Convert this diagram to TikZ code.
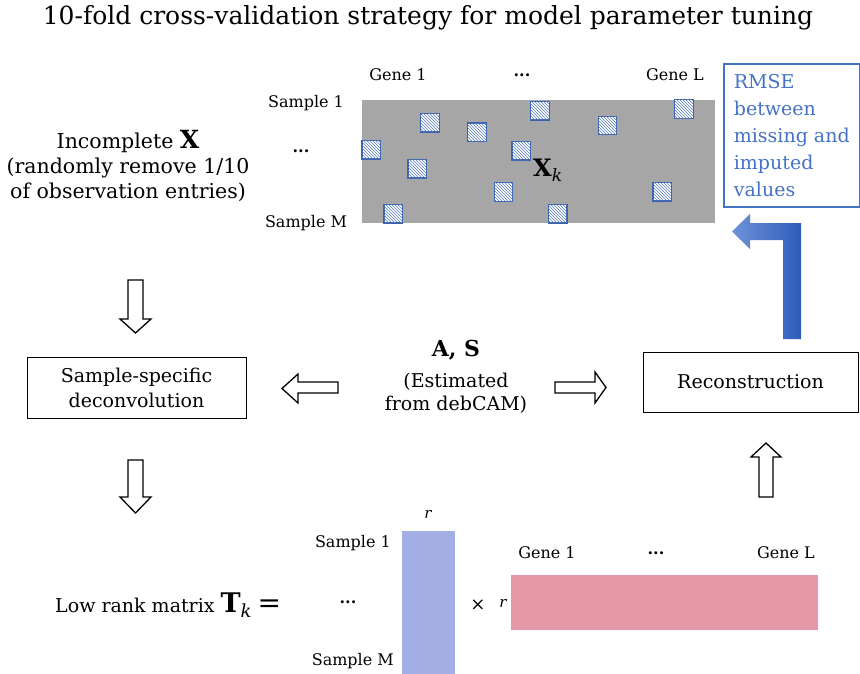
\documentclass[tikz,border=0pt]{standalone}
\usepackage{fontspec}
\setmainfont{DejaVu Serif}
\usetikzlibrary{patterns}
\definecolor{grayM}{HTML}{A6A6A6}
\definecolor{blueT}{HTML}{4472C4}
\definecolor{hatch}{HTML}{3B64B0}
\definecolor{barB}{HTML}{A3AEE4}
\definecolor{barP}{HTML}{E698A9}
\definecolor{arrL}{HTML}{6E92DA}
\definecolor{arrR}{HTML}{2D5DB9}
\begin{document}
\begin{tikzpicture}[x=1pt,y=-1pt,
  lbl/.style={inner sep=0pt, font=\fontsize{16}{18}\selectfont},
  miss/.style={draw=hatch, line width=1.2pt, fill=white,
    postaction={pattern=north west lines, pattern color=hatch!85},
    minimum size=18.5pt, inner sep=0pt},
  procbox/.style={draw=black, line width=1pt, align=center, inner sep=0pt,
    font=\fontsize{19}{25}\selectfont},
  hollow/.style={draw=black, line width=1.3pt, fill=white, line join=miter}
]
\useasboundingbox (0,0) rectangle (860,674);

% title
\node[inner sep=0pt, font=\fontsize{25}{28}\selectfont] (title) at (428,18)
  {10-fold cross-validation strategy for model parameter tuning};

% incomplete X description
\node[inner sep=0pt, align=center, font=\fontsize{20.5}{25}\selectfont] (incomp) at (128,166)
  {Incomplete {\fontsize{25}{25}\selectfont\bfseries X}\\(randomly remove 1/10\\of observation entries)};

% data matrix
\node[fill=grayM, anchor=north west, minimum width=353pt, minimum height=123pt, inner sep=0pt] (Xmat) at (362,100) {};
\node[miss] (m1) at (540,110.7) {};
\node[miss] (m2) at (684,109) {};
\node[miss] (m3) at (430,122.7) {};
\node[miss] (m4) at (477,132.3) {};
\node[miss] (m5) at (607.5,125.5) {};
\node[miss] (m6) at (371.3,149.7) {};
\node[miss] (m7) at (521.3,150.8) {};
\node[miss] (m8) at (417.2,168.8) {};
\node[miss] (m9) at (503.5,192) {};
\node[miss] (m10) at (662.2,191.7) {};
\node[miss] (m11) at (393.3,213.7) {};
\node[miss] (m12) at (557.8,213.7) {};
\node[inner sep=0pt, anchor=base west] (Xk) at (533,177)
  {{\fontsize{24}{24}\selectfont\bfseries X}\raisebox{-5pt}{\fontsize{17}{17}\selectfont\itshape k}};

\node[lbl] (g1) at (398,75) {Gene 1};
\node[lbl] (gd) at (522,75) {\textbf{...}};
\node[lbl] (gL) at (675,75) {Gene L};
\node[lbl] (s1) at (306,103) {Sample 1};
\node[lbl] (sd) at (301,151) {\textbf{...}};
\node[lbl] (sM) at (306,223) {Sample M};

% RMSE box
\node[draw=blueT, line width=1.6pt, anchor=north west, minimum width=136pt, minimum height=143pt,
  inner sep=0pt, align=left, text=blueT, font=\fontsize{19}{27}\selectfont] (rmse) at (723,63)
  {RMSE\\between\\missing and\\imputed\\values};

% blue feedback arrow
\path[left color=arrL, right color=arrR]
  (732,231.5) -- (750,214) -- (750,223) -- (801,223) -- (801,339) -- (783,339)
  -- (783,240) -- (750,240) -- (750,249) -- cycle;

% processing boxes
\node[procbox, minimum width=219pt, minimum height=61pt] (deconv) at (136.5,387.5)
  {Sample-specific\\deconvolution};
\node[procbox, minimum width=215pt, minimum height=60pt] (recon) at (750.5,382)
  {Reconstruction};

% A, S
\node[inner sep=0pt, font=\fontsize{22}{22}\selectfont\bfseries] (AS) at (456,350) {A, S};
\node[inner sep=0pt, align=center, font=\fontsize{19}{23}\selectfont] (est) at (456,393)
  {(Estimated\\from debCAM)};

% hollow block arrows
\draw[hollow] (128,280) -- (143,280) -- (143,319) -- (151,319) -- (135.5,333) -- (120,319) -- (128,319) -- cycle;
\draw[hollow] (128,460) -- (143,460) -- (143,497) -- (151,497) -- (135.5,513) -- (120,497) -- (128,497) -- cycle;
\draw[hollow] (759,497) -- (773,497) -- (773,457) -- (781,457) -- (766,443) -- (751,457) -- (759,457) -- cycle;
\draw[hollow] (338,382) -- (338,393) -- (298,393) -- (298,403) -- (282,388.5) -- (298,374) -- (298,382) -- cycle;
\draw[hollow] (555,382) -- (555,393) -- (595,393) -- (595,403) -- (606,387.5) -- (595,372) -- (595,382) -- cycle;

% low rank factorisation
\node[inner sep=0pt, anchor=west, font=\fontsize{19}{19}\selectfont] (lowrank) at (55,605)
  {Low rank matrix {\fontsize{27}{27}\selectfont\bfseries T}\raisebox{-5pt}{\fontsize{18}{18}\selectfont\itshape k} {\fontsize{28}{28}\selectfont =}};
\node[fill=barB, anchor=north west, minimum width=53pt, minimum height=143pt, inner sep=0pt] (Tleft) at (402,531) {};
\node[fill=barP, anchor=north west, minimum width=307pt, minimum height=55pt, inner sep=0pt] (Tright) at (511,575) {};
\node[lbl, font=\fontsize{15}{15}\selectfont\itshape] (rtop) at (428,514) {r};
\node[lbl, anchor=east] (bs1) at (391,543) {Sample 1};
\node[lbl] (bsd) at (348,602) {\textbf{...}};
\node[lbl, anchor=east] (bsM) at (394,661) {Sample M};
\node[lbl, font=\fontsize{18}{18}\selectfont] (times) at (478,605) {×};
\node[lbl, font=\fontsize{15}{15}\selectfont\itshape] (rleft) at (503,603) {r};
\node[lbl] (bg1) at (547,553) {Gene 1};
\node[lbl] (bgd) at (656,553) {\textbf{...}};
\node[lbl] (bgL) at (786,553) {Gene L};
\end{tikzpicture}
\end{document}
